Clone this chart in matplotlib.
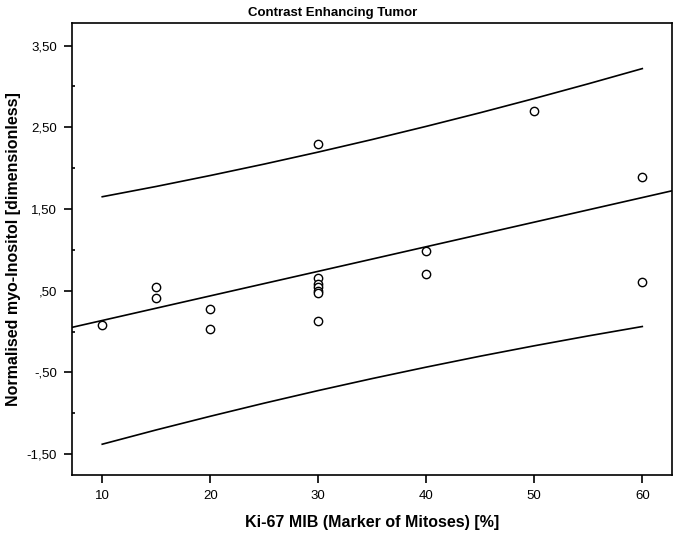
import numpy as np
import matplotlib
matplotlib.use('Agg')
import matplotlib.pyplot as plt
from matplotlib.ticker import FixedLocator, FixedFormatter

plt.rcParams['font.family'] = ['Liberation Sans', 'DejaVu Sans']

# scatter values
ki67 = [10, 15, 15, 20, 20, 30, 30, 30, 30, 30, 30, 30, 40, 40, 50, 60, 60]
myo = [0.08, 0.55, 0.41, 0.28, 0.03, 2.30, 0.66, 0.58, 0.54, 0.50, 0.47, 0.13,
       0.98, 0.70, 2.70, 1.89, 0.60]

# fitted line
fit_intercept = -0.166
fit_slope = 0.0301

# 95% prediction band, read at steps of 5
band_x = [10, 15, 20, 25, 30, 35, 40, 45, 50, 55, 60]
band_upper = [1.650, 1.776, 1.910, 2.050, 2.197, 2.351, 2.512, 2.679, 2.853, 3.033, 3.219]
band_lower = [-1.380, -1.205, -1.038, -0.877, -0.723, -0.576, -0.436, -0.302, -0.175, -0.054, 0.061]

xticks = [10, 20, 30, 40, 50, 60]
xticklabels = ['10', '20', '30', '40', '50', '60']
yticks = [-1.5, -0.5, 0.5, 1.5, 2.5, 3.5]
yticklabels = ['-1,50', '-,50', ',50', '1,50', '2,50', '3,50']
yminor = [-1.0, 0.0, 1.0, 2.0, 3.0]

fig = plt.figure(figsize=(6.8, 5.38), dpi=100)
ax = fig.add_axes([0.1054, 0.1171, 0.8833, 0.8401])

xlim = (7.17, 62.78)
xx = np.array(xlim)
ax.plot(xx, fit_intercept + fit_slope * xx, color='black', lw=1.2)
ax.plot(band_x, band_upper, color='black', lw=1.2)
ax.plot(band_x, band_lower, color='black', lw=1.2)
ax.scatter(ki67, myo, s=36, facecolors='white', edgecolors='black', linewidths=1.0, zorder=3)

ax.set_xlim(*xlim)
ax.set_ylim(-1.757, 3.777)

ax.xaxis.set_major_locator(FixedLocator(xticks))
ax.xaxis.set_major_formatter(FixedFormatter(xticklabels))
ax.yaxis.set_major_locator(FixedLocator(yticks))
ax.yaxis.set_major_formatter(FixedFormatter(yticklabels))
ax.yaxis.set_minor_locator(FixedLocator(yminor))
ax.tick_params(axis='both', which='major', direction='out', length=5.5, width=1.2,
               labelsize=9.5, pad=5)
ax.tick_params(axis='y', which='minor', direction='in', length=2.2, width=1.2)
for s in ax.spines.values():
    s.set_linewidth(1.2)

ax.set_xlabel('Ki-67 MIB (Marker of Mitoses) [%]', fontsize=11.5, fontweight='bold', va='center')
ax.xaxis.set_label_coords(0.5, -0.106)
ax.set_ylabel('Normalised myo-Inositol [dimensionless]', fontsize=11.5, fontweight='bold', va='center')
ax.yaxis.set_label_coords(-0.097, 0.5)
fig.text(333 / 680, 1 - 13 / 538, 'Contrast Enhancing Tumor', fontsize=9.5,
         fontweight='bold', ha='center', va='center')

fig.savefig('out.png', dpi=100)
